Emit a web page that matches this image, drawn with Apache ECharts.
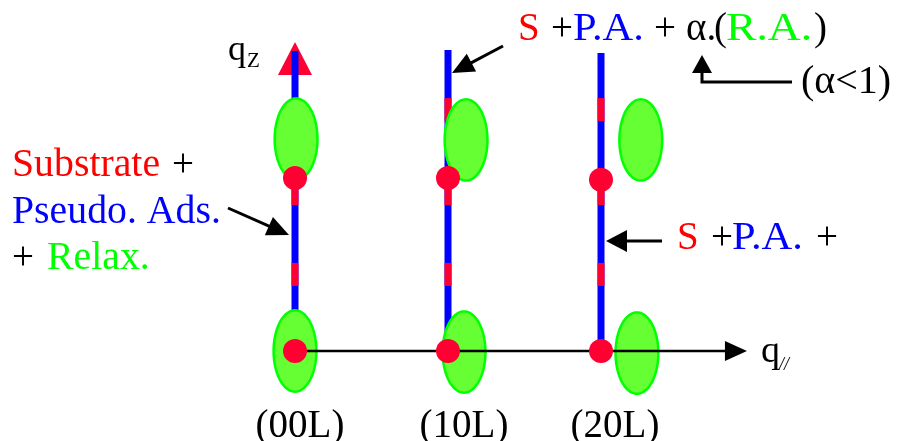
<!DOCTYPE html>
<html><head><meta charset="utf-8">
<script src="https://cdn.jsdelivr.net/npm/echarts@6/dist/echarts.min.js"></script>
<style>html,body{margin:0;padding:0;background:#fff}#c{width:898px;height:441px}</style>
</head><body><div id="c"></div>
<script>
// ---- data (reciprocal-space units: h along q//, L along qz) ----
const columnLabels = ['(00L)', '(10L)', '(20L)'];
const columnH = [0, 1, 2];
const rodTopL = [1.734, 1.740, 1.723];
const redBandsL = [[0.376, 0.509], [0.844, 1.0], [1.329, 1.462]];
const braggPoints = [[0, 0], [0, 1], [1, 0], [1, 1], [2, 0], [2, 0.99]];
const relaxedPeaks = [[0.007, 1.225], [0, 0], [1.118, 1.22], [1.105, -0.006], [2.26, 1.22], [2.235, -0.012]];
const relaxedHalfWidth = [0.14, 0.235];   // [h, L]
const qParallelEnd = 2.954;
const qzArrowL = [1.595, 1.786];          // base, apex

const RED = '#FF0033', BLUE = '#0000FF', GFILL = '#66FF33', GSTROKE = '#00FF00';
const TRED = '#FF0000', TGREEN = '#00FF00', FAM = '"Liberation Serif", serif';

const chart = echarts.init(document.getElementById('c'), null, {renderer: 'canvas'});

function arrow(x1, y1, x2, y2, len, half, lw) {
  const dx = x2 - x1, dy = y2 - y1, d = Math.hypot(dx, dy), ux = dx / d, uy = dy / d;
  const bx = x2 - ux * len, by = y2 - uy * len;
  return [
    {type: 'line', shape: {x1: x1, y1: y1, x2: bx + ux * 2, y2: by + uy * 2}, style: {stroke: '#000', lineWidth: lw}},
    {type: 'polygon', shape: {points: [[x2, y2], [bx - uy * half, by + ux * half], [bx + uy * half, by - ux * half]]}, style: {fill: '#000'}}
  ];
}
function fontOf(size, style) { return (style ? style + ' ' : '') + size + 'px ' + FAM; }
function txt(x, y, text, color, size, style, sx) {
  return {type: 'text', x: x, y: y, scaleX: sx || 1,
    style: {text: text, font: fontOf(size || 39, style), fill: color || '#000', align: 'left', verticalAlign: 'middle'}};
}
// multi-coloured line built from pieces [x, text, color, horizontal stretch]
function segLine(y, pieces, size) {
  return pieces.map(function (pc) { return txt(pc[0], y, pc[1], pc[2], size, null, pc[3]); });
}

const K = '#000';
const graphics = []
  .concat(arrow(228, 208, 289, 235, 22, 10, 3))
  .concat(arrow(503, 46, 452, 73, 22, 10, 3))
  .concat(arrow(662, 241, 606, 241, 21, 11, 3))
  .concat([
    {type: 'polyline', shape: {points: [[792, 82], [702, 82], [702, 70]]}, style: {stroke: '#000', lineWidth: 3, fill: null}},
    {type: 'polygon', shape: {points: [[702, 55], [692, 73], [712, 73]]}, style: {fill: '#000'}}
  ])
  .concat(segLine(30, [[518, 'S', TRED], [551, '+', K], [573, 'P.A.', BLUE, 1.09],
    [654, '+', K], [686, 'α.', K], [714, '(', K], [726, 'R.A.', TGREEN, 1.17], [814, ')', K]]))
  .concat([txt(801, 82, '(α<1)', K, 40)])
  .concat(segLine(239, [[677, 'S', TRED], [711, '+', K], [732, 'P.A.', BLUE, 1.09], [816, '+', K]]))
  .concat(segLine(166, [[12, 'Substrate', TRED, 1.02], [172, '+', K]]))
  .concat(segLine(213, [[12, 'Pseudo. Ads.', BLUE, 1.02]]))
  .concat(segLine(259, [[12, '+', K], [47, 'Relax.', TGREEN, 1.02]]))
  .concat([
    txt(228, 51, 'q', K, 36),
    txt(247, 61, 'Z', K, 21),
    txt(761, 352, 'q', K, 38),
    txt(779, 365, '//', K, 18, 'italic')
  ]);

const labelOffsetPx = [5, 16, 14];

chart.setOption({
  animation: false,
  backgroundColor: '#fff',
  grid: {left: 0, right: 0, top: 0, bottom: 0},
  xAxis: {type: 'value', min: -1.92810, max: 3.94118, show: false},
  yAxis: {type: 'value', min: -0.52023, max: 2.02890, show: false},
  graphic: {elements: graphics},
  series: [
    { // qz arrow head
      type: 'custom', z: 1, data: [[columnH[0], qzArrowL[0], qzArrowL[1]]],
      renderItem: function (p, api) {
        const b = api.coord([api.value(0), api.value(1)]);
        const a = api.coord([api.value(0), api.value(2)]);
        return {type: 'polygon', shape: {points: [[a[0], a[1]], [b[0] - 17, b[1]], [b[0] + 17, b[1]]]}, style: {fill: RED}};
      }
    },
    { // truncation rods
      type: 'custom', z: 2, data: columnH.map((h, i) => [h, rodTopL[i]]),
      renderItem: function (p, api) {
        const h = api.value(0), top = api.value(1);
        const p0 = api.coord([h, 0]), p1 = api.coord([h, top]);
        const ch = [{type: 'line', shape: {x1: p0[0], y1: p0[1], x2: p1[0], y2: p1[1]}, style: {stroke: BLUE, lineWidth: 7}}];
        redBandsL.forEach(function (bd) {
          if (bd[1] <= top) {
            const a = api.coord([h, bd[0]]), c = api.coord([h, bd[1]]);
            ch.push({type: 'line', shape: {x1: a[0], y1: a[1], x2: c[0], y2: c[1]}, style: {stroke: RED, lineWidth: 7}});
          }
        });
        return {type: 'group', children: ch};
      }
    },
    { // relaxed peaks
      type: 'custom', z: 3, data: relaxedPeaks,
      renderItem: function (p, api) {
        const c = api.coord([api.value(0), api.value(1)]);
        const s = api.size(relaxedHalfWidth);
        const pts = [];
        for (let k = 0; k < 96; k++) {
          const t = k / 96 * Math.PI * 2;
          pts.push([c[0] + s[0] * Math.cos(t), c[1] + s[1] * Math.sin(t)]);
        }
        return {type: 'polygon', shape: {points: pts}, style: {fill: GFILL, stroke: GSTROKE, lineWidth: 2.5}};
      }
    },
    { // q// axis
      type: 'custom', z: 4, data: [[0, 0, qParallelEnd]],
      renderItem: function (p, api) {
        const a = api.coord([api.value(0), api.value(1)]);
        const e = api.coord([api.value(2), api.value(1)]);
        return {type: 'group', children: [
          {type: 'line', shape: {x1: a[0], y1: a[1], x2: e[0] - 20, y2: e[1]}, style: {stroke: '#000', lineWidth: 2.5}},
          {type: 'polygon', shape: {points: [[e[0], e[1]], [e[0] - 22, e[1] - 10], [e[0] - 22, e[1] + 10]]}, style: {fill: '#000'}}
        ]};
      }
    },
    { // Bragg points
      type: 'scatter', z: 5, data: braggPoints, symbol: 'circle', symbolSize: 24,
      itemStyle: {color: RED, opacity: 1}
    },
    { // column labels
      type: 'custom', z: 6, data: columnH.map((h, i) => [h, i]),
      renderItem: function (p, api) {
        const i = api.value(1);
        const c = api.coord([api.value(0), 0]);
        return {type: 'text', x: c[0] + labelOffsetPx[i], y: 427,
          style: {text: columnLabels[i], font: fontOf(39), fill: '#000', align: 'center', verticalAlign: 'middle'}};
      }
    }
  ]
});
</script></body></html>
